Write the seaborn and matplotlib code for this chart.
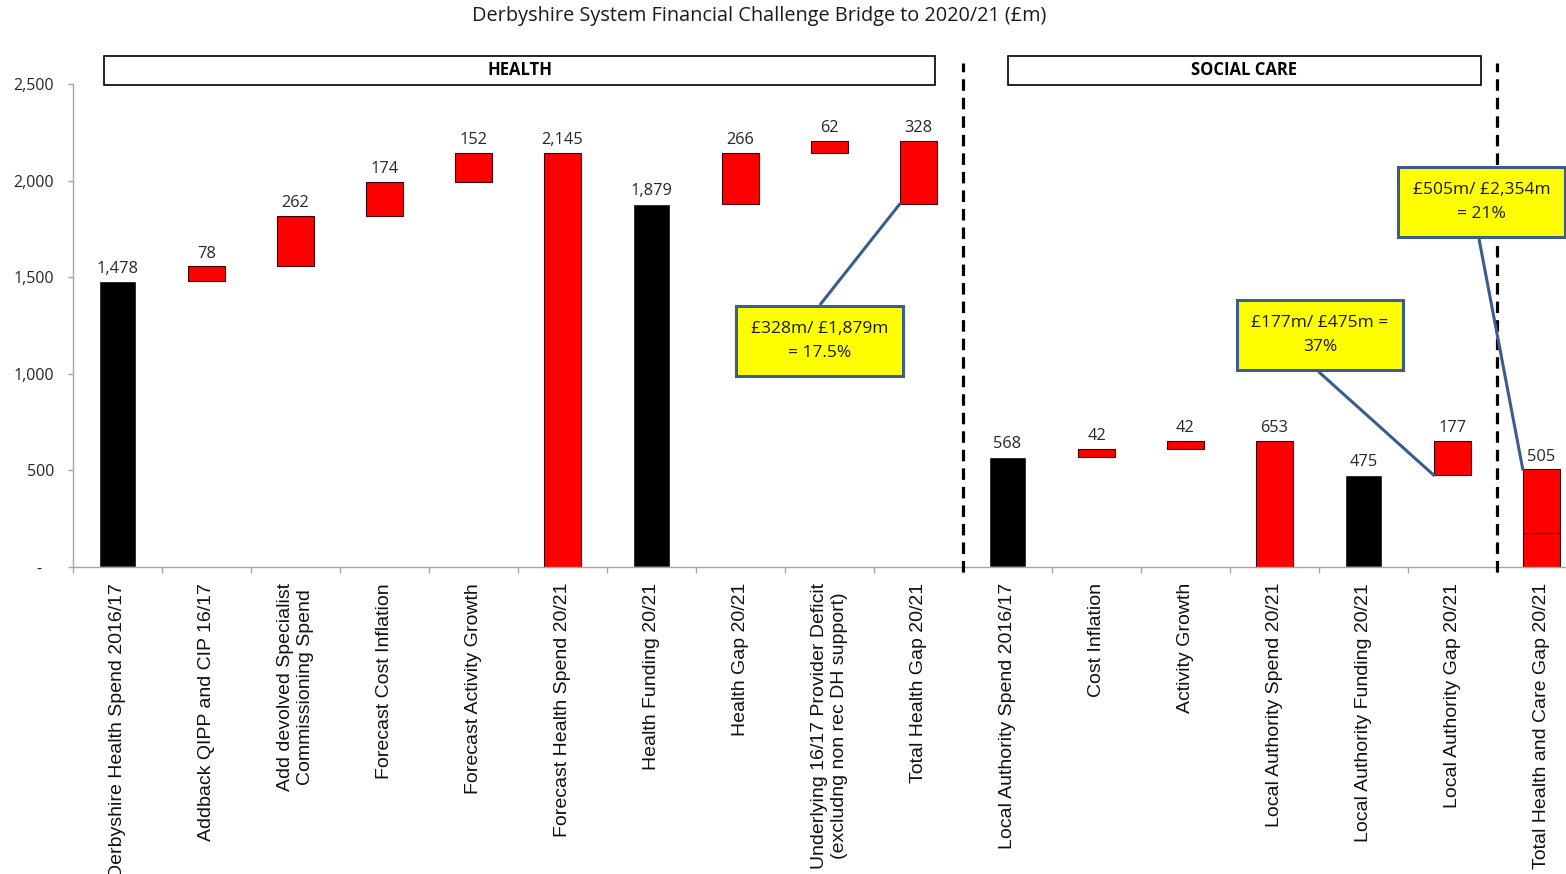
"""
Derbyshire system financial challenge bridge (waterfall) to 2020/21
"""

import numpy as np
import pandas as pd
import matplotlib
matplotlib.use("Agg")
import matplotlib.pyplot as plt
from matplotlib.patches import Rectangle
from matplotlib.ticker import FixedLocator
import seaborn as sns

# ─── Data ───────────────────────────────────────────────────────────────────
CATEGORIES = [
    "Derbyshire Health Spend 2016/17",
    "Addback QIPP and CIP 16/17",
    "Add devolved Specialist\nCommissioning Spend",
    "Forecast Cost Inflation",
    "Forecast Activity Growth",
    "Forecast Health Spend 20/21",
    "Health Funding 20/21",
    "Health Gap 20/21",
    "Underlying 16/17 Provider Deficit\n(excludng non rec DH support)",
    "Total Health Gap 20/21",
    "Local Authority Spend 2016/17",
    "Cost Inflation",
    "Activity Growth",
    "Local Authority Spend 20/21",
    "Local Authority Funding 20/21",
    "Local Authority Gap 20/21",
    "Total Health and Care Gap 20/21",
]
VALUES = [1478, 78, 262, 174, 152, 2145, 1879, 266, 62, 328,
          568, 42, 42, 653, 475, 177, 505]
BASES = [0, 1478, 1556, 1818, 1992, 0, 0, 1879, 2145, 1879,
         0, 568, 610, 0, 0, 475, 0]
KINDS = ["black", "red", "red", "red", "red", "red", "black", "red", "red", "red",
         "black", "red", "red", "red", "black", "red", "red"]
# last bar is stacked: social care gap (bottom) + health gap (top)
TOTAL_GAP_PARTS = [177, 328]

CALLOUTS = [
    # text, box centre, line start, line end
    ("£328m/ £1,879m\n= 17.5%", (7.89, 1170), (7.90, 1361), (8.79, 1879)),
    ("£177m/ £475m =\n37%", (13.51, 1201), (13.50, 1009), (14.79, 475)),
    ("£505m/ £2,354m\n= 21%", (15.33, 1889), (15.30, 1693), (15.79, 505)),
]
SECTIONS = [("HEALTH", -0.15, 9.19), ("SOCIAL CARE", 10.0, 15.32)]
DIVIDERS = [9.5, 15.5]
YTICKS = [0, 500, 1000, 1500, 2000, 2500]

# ─── Style ──────────────────────────────────────────────────────────────────
sns.set_style("white")
plt.rcParams["font.family"] = ["Open Sans", "DejaVu Sans"]
GREY = "#A6A6A6"
TEXT = "#262626"
LINE_BLUE = "#3C5C8E"
BAR_W = 0.415

df = pd.DataFrame({"category": CATEGORIES, "value": VALUES, "base": BASES, "kind": KINDS})
df["height"] = df["value"]
df.loc[df.index[-1], "height"] = TOTAL_GAP_PARTS[0]

fig = plt.figure(figsize=(15.66, 8.74), dpi=100)
ax = fig.add_axes([73 / 1566, 307 / 874, 1513 / 1566, 483 / 874])

black = df[df["kind"] == "black"]
red = df[df["kind"] == "red"]

sns.barplot(data=black, x="category", y="height", order=CATEGORIES, color="black",
            saturation=1, width=BAR_W, errorbar=None, ax=ax)
sns.barplot(data=red, x="category", y="height", order=CATEGORIES, color="#FF0000",
            saturation=1, width=BAR_W, errorbar=None, ax=ax,
            bottom=red["base"].values, edgecolor="#3a0000", linewidth=0.8)
top_part = pd.DataFrame({"category": [CATEGORIES[-1]], "height": [TOTAL_GAP_PARTS[1]]})
sns.barplot(data=top_part, x="category", y="height", order=CATEGORIES, color="#FF0000",
            saturation=1, width=BAR_W, errorbar=None, ax=ax,
            bottom=[TOTAL_GAP_PARTS[0]], edgecolor="#3a0000", linewidth=0.8)

# value labels
for i, (v, b) in enumerate(zip(VALUES, BASES)):
    ax.annotate(f"{v:,}", (i, b + v), xytext=(0, 3.5), textcoords="offset points",
                ha="center", va="bottom", fontsize=11.8, color=TEXT)

# axes
ax.set_xlim(-0.5, len(CATEGORIES) - 0.5)
ax.set_ylim(0, 2500)
ax.set_xlabel("")
ax.set_ylabel("")
for side in ["top", "right"]:
    ax.spines[side].set_visible(False)
for side in ["left", "bottom"]:
    ax.spines[side].set_color(GREY)
    ax.spines[side].set_linewidth(1)

ax.set_yticks(YTICKS)
ax.set_yticklabels(["-   "] + [f"{t:,}" for t in YTICKS[1:]], fontsize=11.5, color=TEXT)
ax.tick_params(axis="y", length=3.6, width=1, color=GREY, pad=10, left=True)

ax.set_xticks(range(len(CATEGORIES)))
ax.set_xticklabels(CATEGORIES, rotation=90, va="top", ha="center",
                   fontsize=14, color="#111111", family="Liberation Sans")
ax.tick_params(axis="x", which="major", length=0, pad=11.5)
ax.xaxis.set_minor_locator(FixedLocator(np.arange(-0.5, len(CATEGORIES) - 0.5, 1.0)))
ax.tick_params(axis="x", which="minor", length=4, width=1, color=GREY, bottom=True)

# section dividers
for xd in DIVIDERS:
    ax.plot([xd, xd], [-25, 2610], color="black", lw=2.3, ls=(0, (3.6, 2.2)),
            clip_on=False, zorder=5)

# section headers
for name, x0, x1 in SECTIONS:
    ax.add_patch(Rectangle((x0, 2495), x1 - x0, 150, facecolor="white",
                           edgecolor="black", lw=1.2, clip_on=False, zorder=4))
    ax.text((x0 + x1) / 2, 2570, name, ha="center", va="center", fontsize=12,
            fontweight="bold", color="black", clip_on=False, zorder=5)

# callouts
for txt, centre, start, end in CALLOUTS:
    ax.annotate("", xy=end, xytext=start,
                arrowprops=dict(arrowstyle="-", color=LINE_BLUE, lw=2.2,
                                shrinkA=0, shrinkB=0), zorder=6)
    ax.text(centre[0], centre[1], txt, ha="center", va="center", fontsize=12.5,
            color="#1a1a1a", linespacing=1.65, zorder=7,
            bbox=dict(boxstyle="square,pad=0.85", facecolor="#FFFF00",
                      edgecolor=LINE_BLUE, lw=2.2))

fig.text(759 / 1566, 1 - 16 / 874,
         "Derbyshire System Financial Challenge Bridge to 2020/21 (£m)",
         ha="center", va="center", fontsize=14.3, color="#1a1a1a")

fig.savefig("out.png", dpi=100)
